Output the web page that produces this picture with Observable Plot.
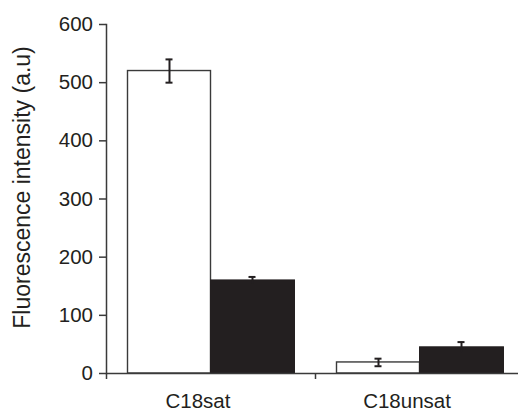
<!DOCTYPE html>
<html>
<head>
<meta charset="utf-8">
<script src="https://cdn.jsdelivr.net/npm/d3@7"></script>
<script src="https://cdn.jsdelivr.net/npm/@observablehq/plot@0.6"></script>
<style>
  html, body { margin: 0; padding: 0; background: #fff; }
  #chart svg { display: block; }
</style>
</head>
<body>
<div id="chart"></div>
<script>
const categories = ["C18sat", "C18unsat"];
const openValues = [520, 19];      // white (open) bars
const openErrors = [20, 6.5];
const filledValues = [160, 45];    // black (filled) bars
const filledErrors = [6, 9];
const yTicks = [0, 100, 200, 300, 400, 500, 600];
const yLabel = "Fluorescence intensity (a.u)";

const openRows = categories.map((c, i) => ({cat: c, value: openValues[i], err: openErrors[i]}));
const filledRows = categories.map((c, i) => ({cat: c, value: filledValues[i], err: filledErrors[i]}));

const ink = "#231f20";
const axisInk = "#3a3a3a";

const chart = Plot.plot({
  width: 518,
  height: 411,
  marginLeft: 106,
  marginRight: 0,
  marginTop: 24,
  marginBottom: 38,
  style: {fontFamily: "'Liberation Sans', Arial, sans-serif", fontSize: "20px", color: ink, background: "#fff"},
  x: {domain: categories, range: [106, 524], padding: 0},
  y: {domain: [0, 600]},
  marks: [
    // bars
    Plot.barY(openRows, {x: "cat", y: "value", fill: "#fff", stroke: axisInk, strokeWidth: 1.4, insetLeft: 21.5, insetRight: 104.5}),
    Plot.barY(filledRows, {x: "cat", y: "value", fill: ink, stroke: ink, strokeWidth: 1, insetLeft: 104.5, insetRight: 20.5}),
    // error bars
    Plot.ruleX(openRows, {x: "cat", y1: d => d.value - d.err, y2: d => d.value + d.err, dx: -41.5, stroke: ink, strokeWidth: 2}),
    Plot.tickY(openRows, {x: "cat", y: d => d.value - d.err, dx: -41.5, insetLeft: 101, insetRight: 101, stroke: ink, strokeWidth: 2}),
    Plot.tickY(openRows, {x: "cat", y: d => d.value + d.err, dx: -41.5, insetLeft: 101, insetRight: 101, stroke: ink, strokeWidth: 2}),
    Plot.ruleX(filledRows, {x: "cat", y1: d => d.value - d.err, y2: d => d.value + d.err, dx: 41.5, stroke: ink, strokeWidth: 2}),
    Plot.tickY(filledRows, {x: "cat", y: d => d.value + d.err, dx: 41.5, insetLeft: 101, insetRight: 101, stroke: ink, strokeWidth: 2}),
    // axes lines
    Plot.ruleY([0], {stroke: axisInk, strokeWidth: 1.5}),
    Plot.frame({anchor: "left", stroke: axisInk, strokeWidth: 1.5}),
    // y axis
    Plot.axisY({ticks: yTicks, tickSize: 7, tickPadding: 6.5, label: null, stroke: axisInk, strokeWidth: 1.5, fontSize: 20.5, fill: ink}),
    // x axis boundary ticks
    Plot.axisX(categories, {tickSize: 6, tickFormat: () => "", dx: -104.5, label: null, stroke: axisInk, strokeWidth: 1.5}),
    // x axis labels
    Plot.axisX(categories, {tickSize: 0, tickPadding: 20, dx: -13, label: null, fontSize: 20.5, fill: ink}),
    // y label
    Plot.text([yLabel], {text: d => d, frameAnchor: "left", textAnchor: "middle", rotate: -90, dx: -84, dy: -11.5, fontSize: 23, fill: ink})
  ]
});
document.getElementById("chart").appendChild(chart);
</script>
</body>
</html>
